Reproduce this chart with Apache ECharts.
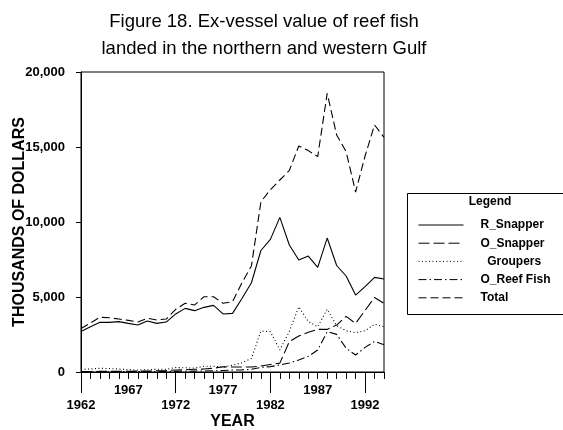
<!DOCTYPE html>
<html>
<head>
<meta charset="utf-8">
<script src="https://cdn.jsdelivr.net/npm/echarts@6/dist/echarts.min.js"></script>
<style>
html,body{margin:0;padding:0;background:#fff;}
#chart{width:563px;height:430px;}
</style>
</head>
<body>
<div id="chart"></div>
<script>
var years = [1962,1963,1964,1965,1966,1967,1968,1969,1970,1971,1972,1973,1974,1975,1976,1977,1978,1979,1980,1981,1982,1983,1984,1985,1986,1987,1988,1989,1990,1991,1992,1993,1994];
var rSnapper = [2700,3020,3310,3310,3360,3240,3130,3400,3240,3330,3870,4240,4090,4310,4440,3870,3910,4900,5950,8100,8840,10310,8470,7470,7730,6980,8930,7100,6400,5130,5690,6310,6200];
var oSnapper = [30,30,40,40,50,50,60,60,80,100,130,150,180,200,250,350,330,330,330,400,500,590,2020,2400,2650,2840,2840,3130,3710,3240,4100,4970,4580];
var groupers = [180,200,250,230,200,150,130,150,180,180,300,280,260,380,380,330,450,620,900,2730,2690,1470,2700,4350,3360,3020,4180,3080,2760,2620,2750,3180,3020];
var oReefFish = [20,20,20,20,30,30,30,30,30,40,40,50,60,70,80,100,130,140,180,310,360,470,600,800,1040,1470,2690,2510,1580,1130,1640,2040,1820];
var total = [2900,3270,3650,3620,3530,3440,3330,3580,3470,3530,4180,4580,4470,5020,5020,4580,4690,5950,7070,11350,12150,12800,13430,15070,14760,14360,18580,15800,14690,12000,14400,16470,15640];
var xTickLabels = [1962,1967,1972,1977,1982,1987,1992];
var xLowerLabels = [1962,1972,1982,1992];

var FONT = '"Liberation Sans", Arial, sans-serif';
function pairs(vals){ return years.map(function(y,i){ return [y, vals[i]]; }); }

var seriesDefs = [
  {name:'R_Snapper', data:rSnapper, type:'solid'},
  {name:'O_Snapper', data:oSnapper, type:[11,4]},
  {name:'Groupers', data:groupers, type:[1,2.5]},
  {name:'O_Reef Fish', data:oReefFish, type:[8,3,1.5,3]},
  {name:'Total', data:total, type:[8,4]}
];

var chart = echarts.init(document.getElementById('chart'), null, {renderer:'canvas'});
var option = {
  backgroundColor:'#fff',
  animation:false,
  title:{
    text:'Figure 18. Ex-vessel value of reef fish\nlanded in the northern and western Gulf',
    left:259, top:3, textAlign:'center',
    textStyle:{fontFamily:FONT, fontSize:18.5, fontWeight:'normal', color:'#000', lineHeight:27.5}
  },
  grid:{left:81, right:179, top:72, bottom:58, show:true, borderColor:'#000', borderWidth:1,
        containLabel:false, outerBoundsMode:'none'},
  xAxis:[
    {type:'value', min:1962, max:1994, interval:1, position:'bottom',
     axisLine:{show:true, lineStyle:{color:'#000', width:1}},
     axisTick:{show:true, length:7, lineStyle:{color:'#000', width:1}},
     axisLabel:{show:false}, splitLine:{show:false},
     name:'YEAR', nameLocation:'middle', nameGap:42, nameMoveOverlap:false,
     nameTextStyle:{fontFamily:FONT, fontSize:16, fontWeight:'bold', color:'#000'}},
    {type:'value', min:1962, max:1994, position:'bottom',
     axisLine:{show:false},
     axisTick:{show:true, length:21, customValues:xLowerLabels, lineStyle:{color:'#000', width:1}},
     axisLabel:{show:false}, splitLine:{show:false}},
    {type:'value', min:1962, max:1994, position:'bottom',
     axisLine:{show:false}, axisTick:{show:false}, splitLine:{show:false},
     axisLabel:{show:true, customValues:xTickLabels, margin:11, lineHeight:15,
       fontFamily:FONT, fontSize:13, fontWeight:'bold', color:'#000',
       formatter:function(v){ return (xLowerLabels.indexOf(v) >= 0 ? '\n' : '') + v; }}}
  ],
  yAxis:{
    type:'value', min:0, max:20000, interval:5000,
    axisLine:{show:true, lineStyle:{color:'#000', width:1}},
    axisTick:{show:true, length:5, lineStyle:{color:'#000', width:1}},
    splitLine:{show:false},
    axisLabel:{margin:16, fontFamily:FONT, fontSize:13, fontWeight:'bold', color:'#000',
      formatter:function(v){ return v.toLocaleString('en-US'); }},
    name:'THOUSANDS OF DOLLARS', nameLocation:'middle', nameGap:53, nameMoveOverlap:false,
    nameTextStyle:{fontFamily:FONT, fontSize:16, fontWeight:'bold', color:'#000'}
  },
  legend:{
    orient:'vertical', left:418, top:219, padding:0,
    itemWidth:45, itemHeight:14, itemGap:6.2,
    itemStyle:{opacity:0},
    textStyle:{fontFamily:FONT, fontSize:12, fontWeight:'bold', color:'#000', padding:[0,0,0,12]},
    formatter:function(n){ return n === 'Groupers' ? '  ' + n : n; },
    data:seriesDefs.map(function(s){ return {name:s.name, itemStyle:{opacity:0}, lineStyle:{type:s.type, color:'#000', width:1}}; })
  },
  graphic:[
    {type:'rect', left:405, top:191, shape:{width:170, height:121}, style:{fill:'none', stroke:'#000', lineWidth:1}, z:10},
    {type:'text', x:490, y:202, style:{text:'Legend', fontFamily:FONT, fontSize:12, fontWeight:'bold', fill:'#000', align:'center', verticalAlign:'middle'}, z:10}
  ],
  series:seriesDefs.map(function(s){
    return {name:s.name, type:'line', data:pairs(s.data), xAxisIndex:0, yAxisIndex:0,
      symbol:'none', showSymbol:false, silent:true,
      lineStyle:{color:'#000', width:1.1, type:s.type},
      itemStyle:{color:'#000'}};
  })
};
chart.setOption(option);
</script>
</body>
</html>
